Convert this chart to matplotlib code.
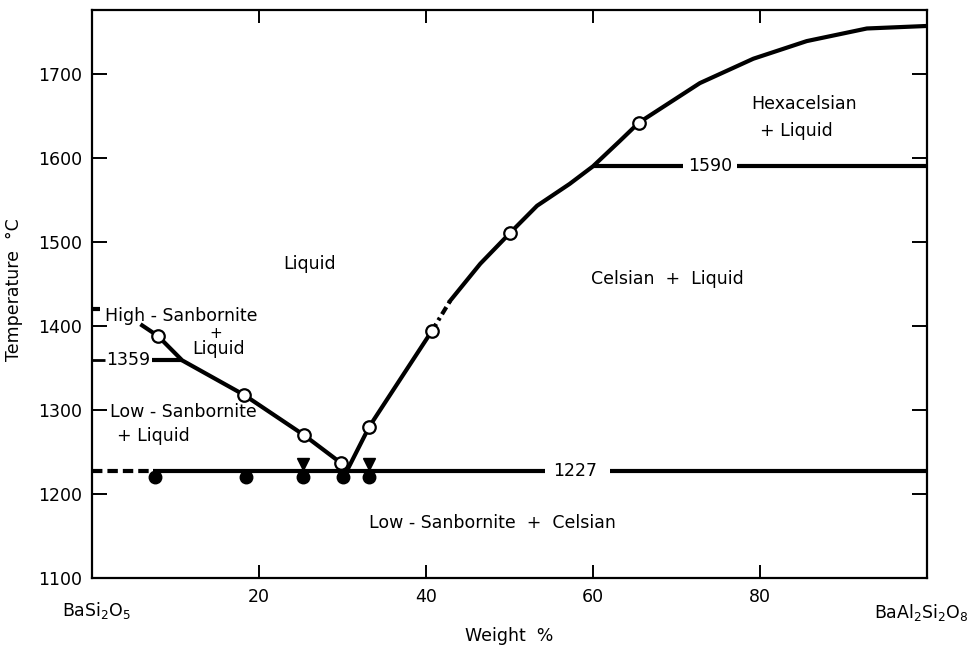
import matplotlib
matplotlib.use("Agg")
import matplotlib.pyplot as plt

plt.rcParams['font.family'] = ['DejaVu Sans']

# ---- data ----
liq_left_x = [5.8, 7.9, 10.8, 18.2, 25.4, 29.8, 30.5]
liq_left_T = [1402, 1388, 1359, 1318, 1270, 1237, 1227]

liq_r1_x = [30.5, 33.2, 40.7]
liq_r1_T = [1227, 1280, 1394]

liq_dash_x = [40.7, 42.9]
liq_dash_T = [1394, 1430]

liq_r2_x = [42.9, 46.5, 50.1, 53.3, 57.2, 60.0, 63.2, 65.5, 72.8, 79.2, 85.6, 92.8, 100.0]
liq_r2_T = [1430, 1474, 1511, 1543, 1569, 1590, 1620, 1642, 1689, 1718, 1739, 1754, 1757]

open_x = [7.9, 18.2, 25.4, 29.8, 33.2, 40.7, 50.1, 65.5]
open_T = [1388, 1318, 1270, 1237, 1280, 1394, 1511, 1642]

filled_x = [7.5, 18.5, 25.3, 30.0, 33.2]
filled_T = [1220, 1220, 1220, 1220, 1220]

tri_x = [25.3, 33.2]
tri_T = [1236, 1236]

T_eut = 1227
T_trans = 1359
T_hex = 1590
T_melt = 1420

xticks = [20, 40, 60, 80]
yticks = [1100, 1200, 1300, 1400, 1500, 1600, 1700]

# ---- figure ----
fig = plt.figure(figsize=(9.74, 6.46), dpi=100)
ax = fig.add_axes([92/974, 1 - 578/646, (927-92)/974, (578-10)/646])
ax.set_xlim(0, 100)
ax.set_ylim(1100, 1776)

lw = 3.0
k = 'black'

# liquidus curves
ax.plot(liq_left_x, liq_left_T, color=k, lw=lw, solid_capstyle='butt', zorder=3)
ax.plot(liq_r1_x, liq_r1_T, color=k, lw=lw, zorder=3)
ax.plot(liq_dash_x, liq_dash_T, color=k, lw=lw, dashes=(2.0, 1.0, 0.7, 1.0), zorder=3)
ax.plot(liq_r2_x, liq_r2_T, color=k, lw=lw, zorder=3)

# horizontal invariant lines
ax.plot([0, 1.0], [T_melt, T_melt], color=k, lw=lw, solid_capstyle='butt')
ax.plot([0, 1.6], [T_trans, T_trans], color=k, lw=2, solid_capstyle='butt')
ax.plot([7.2, 10.8], [T_trans, T_trans], color=k, lw=lw, solid_capstyle='butt')
ax.plot([0, 7.3], [T_eut, T_eut], color=k, lw=lw, dashes=(2.5, 1.2))
ax.plot([7.3, 54.3], [T_eut, T_eut], color=k, lw=lw, solid_capstyle='butt')
ax.plot([62.0, 100], [T_eut, T_eut], color=k, lw=lw, solid_capstyle='butt')
ax.plot([60.0, 70.8], [T_hex, T_hex], color=k, lw=lw, solid_capstyle='butt')
ax.plot([77.2, 100], [T_hex, T_hex], color=k, lw=lw, solid_capstyle='butt')

# markers
ax.plot(open_x, open_T, 'o', ms=9, mfc='white', mec=k, mew=1.6, zorder=5)
ax.plot(filled_x, filled_T, 'o', ms=9, mfc=k, mec=k, zorder=5)
ax.plot(tri_x, tri_T, 'v', ms=9, mfc=k, mec=k, zorder=5)

# labels inside the diagram
fs = 12.5
ax.text(26.0, 1474, 'Liquid', fontsize=fs, ha='center', va='center')
ax.text(1.6, 1412, 'High - Sanbornite', fontsize=fs, ha='left', va='center')
ax.text(14.8, 1391, '+', fontsize=11, ha='center', va='center')
ax.text(15.1, 1372, 'Liquid', fontsize=fs, ha='center', va='center')
ax.text(1.7, T_trans, '1359', fontsize=fs, ha='left', va='center')
ax.text(2.1, 1298, 'Low - Sanbornite', fontsize=fs, ha='left', va='center')
ax.text(3.0, 1269, '+ Liquid', fontsize=fs, ha='left', va='center')
ax.text(57.9, T_eut, '1227', fontsize=fs, ha='center', va='center')
ax.text(47.9, 1165, 'Low - Sanbornite  +  Celsian', fontsize=fs, ha='center', va='center')
ax.text(68.9, 1456, 'Celsian  +  Liquid', fontsize=fs, ha='center', va='center')
ax.text(74.0, T_hex, '1590', fontsize=fs, ha='center', va='center')
ax.text(85.3, 1664, 'Hexacelsian', fontsize=fs, ha='center', va='center')
ax.text(84.4, 1632, '+ Liquid', fontsize=fs, ha='center', va='center')

# axes styling
for s in ax.spines.values():
    s.set_linewidth(1.6)
ax.set_xticks(xticks)
ax.set_xticklabels([str(v) for v in xticks])
ax.set_yticks(yticks)
ax.set_yticklabels([str(v) for v in yticks])
ax.tick_params(axis='both', direction='in', width=1.4, labelsize=fs, pad=7)
ax.tick_params(axis='x', length=9.5, top=True)
ax.tick_params(axis='y', length=11, right=True)

# endmember labels and axis titles
ax.text(0.006, -0.058, 'BaSi$_2$O$_5$', transform=ax.transAxes, fontsize=fs,
        ha='center', va='center')
ax.text(0.993, -0.06, 'BaAl$_2$Si$_2$O$_8$', transform=ax.transAxes, fontsize=fs,
        ha='center', va='center')
fig.text(509/974, 1 - 636/646, 'Weight  %', fontsize=fs, ha='center', va='center')
fig.text(14/974, 1 - 290/646, 'Temperature  °C', rotation=90, fontsize=fs,
         ha='center', va='center')

fig.savefig('out.png', dpi=100)
